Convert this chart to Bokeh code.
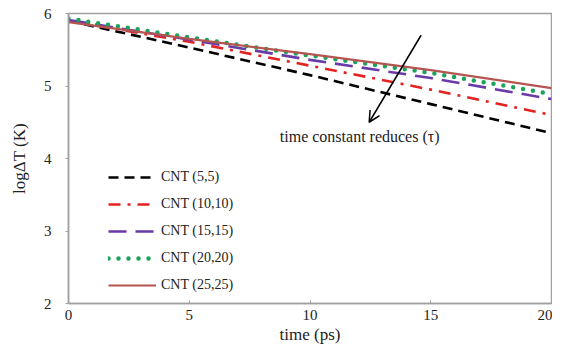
from bokeh.plotting import figure
from bokeh.models import Legend, LegendItem, Arrow, OpenHead, Label, Range1d, FixedTicker
from bokeh.embed import file_html
from bokeh.resources import INLINE

time_ps = [0, 5, 10, 15, 20]
cnt_5_5 = [5.90, 5.53, 5.15, 4.75, 4.35]
cnt_10_10 = [5.90, 5.61, 5.28, 4.95, 4.60]
cnt_15_15 = [5.91, 5.64, 5.36, 5.11, 4.82]
cnt_20_20 = [5.93, 5.67, 5.42, 5.18, 4.89]
cnt_25_25 = [5.88, 5.65, 5.44, 5.22, 4.97]
series_names = ["CNT (5,5)", "CNT (10,10)", "CNT (15,15)", "CNT (20,20)", "CNT (25,25)"]
x_ticks = [0, 5, 10, 15, 20]
y_ticks = [2, 3, 4, 5, 6]

FONT = "Liberation Serif"

p = figure(width=552, height=346, output_backend="svg", toolbar_location=None,
           x_range=Range1d(0, 20), y_range=Range1d(2, 6),
           min_border_left=68, min_border_right=1, min_border_top=13, min_border_bottom=43)
p.grid.visible = False
p.outline_line_color = "#a0a0a0"
p.outline_line_width = 1.5
p.background_fill_color = "white"
p.border_fill_color = "white"

styles = [
    dict(color="black", line_dash="10 6", line_width=2.6, line_cap="butt"),
    dict(color="#e32222", line_dash="12 7 3 7", line_width=2.6, line_cap="butt"),
    dict(color="#6a3aa8", line_dash="18 9", line_width=2.6, line_cap="butt"),
    dict(color="#1aa35a", line_dash="0 10", line_width=4.5, line_cap="round"),
    dict(color="#b5554f", line_dash="solid", line_width=2.2, line_cap="butt"),
]
data = [cnt_5_5, cnt_10_10, cnt_15_15, cnt_20_20, cnt_25_25]
items = []
for name, ys, st in zip(series_names, data, styles):
    r = p.line(time_ps, ys, line_color=st["color"], line_dash=st["line_dash"],
               line_width=st["line_width"], line_cap=st["line_cap"])
    items.append(LegendItem(label=name, renderers=[r]))

legend = Legend(items=items, location=(40, 8), padding=0, margin=0,
                glyph_width=48, glyph_height=20, spacing=7, label_standoff=5,
                label_text_font=FONT, label_text_font_size="14px", label_text_color="#222",
                background_fill_alpha=0, border_line_alpha=0)
p.add_layout(legend, "center")

p.add_layout(Arrow(end=OpenHead(size=11, line_width=1.5, line_color="black"),
                   x_start=14.6, y_start=5.70, x_end=12.45, y_end=4.50,
                   line_width=1.5, line_color="black"))
p.add_layout(Label(x=8.75, y=4.31, text="time constant reduces (\u03c4)",
                   text_font=FONT, text_font_size="16px", text_color="#222",
                   text_baseline="middle", text_align="left"))

for ax in (p.xaxis[0], p.yaxis[0]):
    ax.axis_line_color = "#a0a0a0"
    ax.axis_line_width = 1.5
    ax.major_tick_line_color = "#a0a0a0"
    ax.minor_tick_line_color = None
    ax.major_label_text_font = FONT
    ax.major_label_text_font_size = "15px"
    ax.major_label_text_color = "#222"
    ax.axis_label_text_font = FONT
    ax.axis_label_text_font_size = "17px"
    ax.axis_label_text_font_style = "normal"
    ax.axis_label_text_color = "#222"

p.xaxis.ticker = FixedTicker(ticks=x_ticks)
p.yaxis.ticker = FixedTicker(ticks=y_ticks)
p.xaxis.major_tick_in = 3
p.xaxis.major_tick_out = 0
p.yaxis.major_tick_in = 0
p.yaxis.major_tick_out = 3
p.xaxis.major_label_standoff = 6
p.xaxis.axis_label_standoff = 2
p.yaxis.major_label_standoff = 14
p.yaxis.axis_label_standoff = 12
p.xaxis.axis_label = "time (ps)"
p.yaxis.axis_label = "log\u0394T (K)"

open("out.html", "w").write(file_html(p, INLINE))
